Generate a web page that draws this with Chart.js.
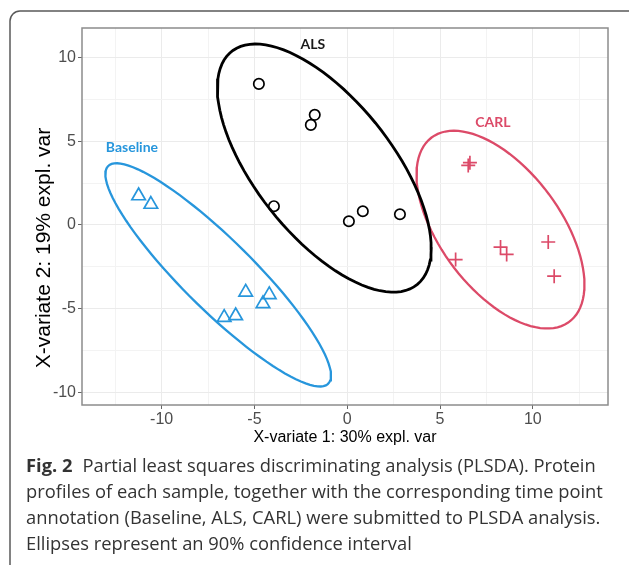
<!DOCTYPE html>
<html><head><meta charset="utf-8">
<script src="https://cdn.jsdelivr.net/npm/chart.js@4.4.1/dist/chart.umd.min.js"></script>
<style>html,body{margin:0;padding:0;background:#fff;}#wrap{width:629px;height:565px;}</style>
</head><body><div id="wrap"><canvas id="c" width="629" height="565"></canvas></div>
<script>
// ---------- data ----------
const groupNames = ['Baseline', 'ALS', 'CARL'];
const baselineX = [-11.24, -10.58, -5.47, -4.20, -4.54, -6.01, -6.63];
const baselineY = [1.74, 1.23, -4.02, -4.17, -4.71, -5.43, -5.53];
const alsX = [-4.76, -1.75, -1.96, -3.95, 0.09, 0.84, 2.84];
const alsY = [8.43, 6.58, 5.98, 1.12, 0.22, 0.82, 0.64];
const carlX = [6.61, 6.52, 5.84, 8.26, 8.59, 10.83, 11.15];
const carlY = [3.72, 3.56, -2.07, -1.32, -1.76, -1.02, -3.06];
const groupLabelX = [-11.6, -1.85, 7.85];
const groupLabelY = [4.6, 10.77, 6.1];
const majorTicks = [-10, -5, 0, 5, 10];
const minorTicksX = [-12.5, -7.5, -2.5, 2.5, 7.5, 12.5];
const minorTicksY = [-7.5, -2.5, 2.5, 7.5];
const xRange = [-14.29, 14.05];
const yRange = [-10.76, 11.77];
const xTitle = 'X-variate 1: 30% expl. var';
const yTitle = 'X-variate 2: 19% expl. var';
const ellipseLevel = 0.90;
const captionBold = 'Fig. 2';
const captionLines = [
  'Partial least squares discriminating analysis (PLSDA). Protein',
  'profiles of each sample, together with the corresponding time point',
  'annotation (Baseline, ALS, CARL) were submitted to PLSDA analysis.',
  'Ellipses represent an 90% confidence interval'
];

// ---------- styles ----------
const COLORS = ['#2796DC', '#000000', '#DC4A68'];
const STYLES = ['triangle', 'circle', 'cross'];
const RADII = [7.8, 5.2, 7];

// 90% confidence ellipse of a group (as in ellipse::ellipse with cov & centre)
function confEllipse(xs, ys, level, n) {
  const m = xs.length;
  const mx = xs.reduce((a, b) => a + b, 0) / m;
  const my = ys.reduce((a, b) => a + b, 0) / m;
  let sxx = 0, syy = 0, sxy = 0;
  for (let i = 0; i < m; i++) {
    const dx = xs[i] - mx, dy = ys[i] - my;
    sxx += dx * dx; syy += dy * dy; sxy += dx * dy;
  }
  sxx /= (m - 1); syy /= (m - 1); sxy /= (m - 1);
  const sx = Math.sqrt(sxx), sy = Math.sqrt(syy), r = sxy / (sx * sy);
  const t = Math.sqrt(-2 * Math.log(1 - level));
  const d = Math.acos(r);
  const pts = [];
  for (let k = 0; k < n; k++) {
    const a = 2 * Math.PI * k / (n - 1);
    pts.push({x: mx + t * sx * Math.cos(a + d / 2), y: my + t * sy * Math.cos(a - d / 2)});
  }
  return pts;
}

const groupsX = [baselineX, alsX, carlX];
const groupsY = [baselineY, alsY, carlY];
const datasets = [];
groupNames.forEach((g, i) => {
  datasets.push({
    label: g + ' ellipse',
    data: confEllipse(groupsX[i], groupsY[i], ellipseLevel, 100),
    showLine: true, pointRadius: 0, borderColor: COLORS[i],
    borderWidth: i === 1 ? 2.8 : 2.3, fill: false, tension: 0
  });
});
groupNames.forEach((g, i) => {
  datasets.push({
    label: g,
    data: groupsX[i].map((x, j) => ({x: x, y: groupsY[i][j]})),
    showLine: false, pointStyle: STYLES[i], pointRadius: RADII[i],
    pointBorderColor: COLORS[i], pointBackgroundColor: 'rgba(0,0,0,0)',
    pointBorderWidth: 1.7, borderColor: COLORS[i]
  });
});

const isMajor = v => majorTicks.indexOf(v) >= 0;

const decor = {
  id: 'decor',
  beforeDraw(chart) {
    const c = chart.ctx;
    c.save(); c.fillStyle = '#fff'; c.fillRect(0, 0, chart.width, chart.height); c.restore();
  },
  beforeDatasetsDraw(chart) {
    const c = chart.ctx, a = chart.chartArea;
    c.save();
    c.strokeStyle = '#8c8c8c'; c.lineWidth = 1.5;
    c.strokeRect(a.left, a.top, a.right - a.left, a.bottom - a.top);
    c.restore();
  },
  afterDatasetsDraw(chart) {
    const c = chart.ctx, xs = chart.scales.x, ys = chart.scales.y;
    c.save();
    c.font = 'bold 14px Lato';
    c.textAlign = 'center'; c.textBaseline = 'middle';
    groupNames.forEach((g, i) => {
      c.fillStyle = COLORS[i] === '#000000' ? '#1a1a1a' : COLORS[i];
      c.fillText(g, xs.getPixelForValue(groupLabelX[i]), ys.getPixelForValue(groupLabelY[i]));
    });
    c.restore();
  },
  afterDraw(chart) {
    const c = chart.ctx;
    c.save();
    // y axis title
    c.translate(44, 248); c.rotate(-Math.PI / 2);
    c.font = '21px "Liberation Sans", Arial';
    c.fillStyle = '#000'; c.textAlign = 'center'; c.textBaseline = 'middle';
    c.fillText(yTitle, 0, 0);
    c.restore();
    // outer frame
    c.save();
    c.strokeStyle = '#5a5a5a'; c.lineWidth = 1.5;
    c.beginPath(); c.roundRect(10, 11, 640, 570, 10); c.stroke();
    c.restore();
    // caption
    c.save();
    c.fillStyle = '#333';
    c.textBaseline = 'alphabetic'; c.textAlign = 'left';
    c.font = '16px "Open Sans"';
    const w16 = c.measureText(captionLines[1]).width;
    const size = 16 * 577 / w16;
    const base = [472, 498, 524, 550];
    c.font = 'bold ' + size + 'px "Open Sans"';
    c.fillText(captionBold, 26, base[0]);
    const bw = c.measureText(captionBold).width;
    c.font = size + 'px "Open Sans"';
    c.fillText(captionLines[0], 26 + bw + 10, base[0]);
    for (let i = 1; i < captionLines.length; i++) c.fillText(captionLines[i], 26, base[i]);
    c.restore();
  }
};

const tickFont = {family: '"Liberation Sans", Arial', size: 16};
new Chart(document.getElementById('c'), {
  type: 'scatter',
  data: {datasets: datasets},
  options: {
    responsive: false, animation: false, events: [],
    layout: {padding: {top: 28, right: 21, bottom: 115, left: 0}},
    plugins: {legend: {display: false}, tooltip: {enabled: false}},
    scales: {
      x: {
        type: 'linear', min: xRange[0], max: xRange[1],
        afterBuildTicks: s => { s.ticks = minorTicksX.concat(majorTicks).sort((a, b) => a - b).map(v => ({value: v})); },
        afterFit: s => { s.height = 45; },
        ticks: {callback: v => isMajor(v) ? String(v) : '', font: tickFont, color: '#4d4d4d', padding: 1, maxRotation: 0, autoSkip: false},
        grid: {color: ctx => isMajor(ctx.tick.value) ? '#ebebeb' : '#f3f3f3', lineWidth: 1,
               tickColor: ctx => isMajor(ctx.tick.value) ? '#666' : 'rgba(0,0,0,0)', tickLength: 4, drawTicks: true},
        border: {display: false},
        title: {display: true, text: xTitle, color: '#000', font: {family: '"Liberation Sans", Arial', size: 16}, padding: {top: 0, bottom: 3}}
      },
      y: {
        type: 'linear', min: yRange[0], max: yRange[1],
        afterBuildTicks: s => { s.ticks = minorTicksY.concat(majorTicks).sort((a, b) => a - b).map(v => ({value: v})); },
        afterFit: s => { s.width = 82; },
        ticks: {callback: v => isMajor(v) ? String(v) : '', font: tickFont, color: '#4d4d4d', padding: 2, autoSkip: false},
        grid: {color: ctx => isMajor(ctx.tick.value) ? '#ebebeb' : '#f3f3f3', lineWidth: 1,
               tickColor: ctx => isMajor(ctx.tick.value) ? '#666' : 'rgba(0,0,0,0)', tickLength: 4, drawTicks: true},
        border: {display: false}
      }
    }
  },
  plugins: [decor]
});
</script></body></html>
